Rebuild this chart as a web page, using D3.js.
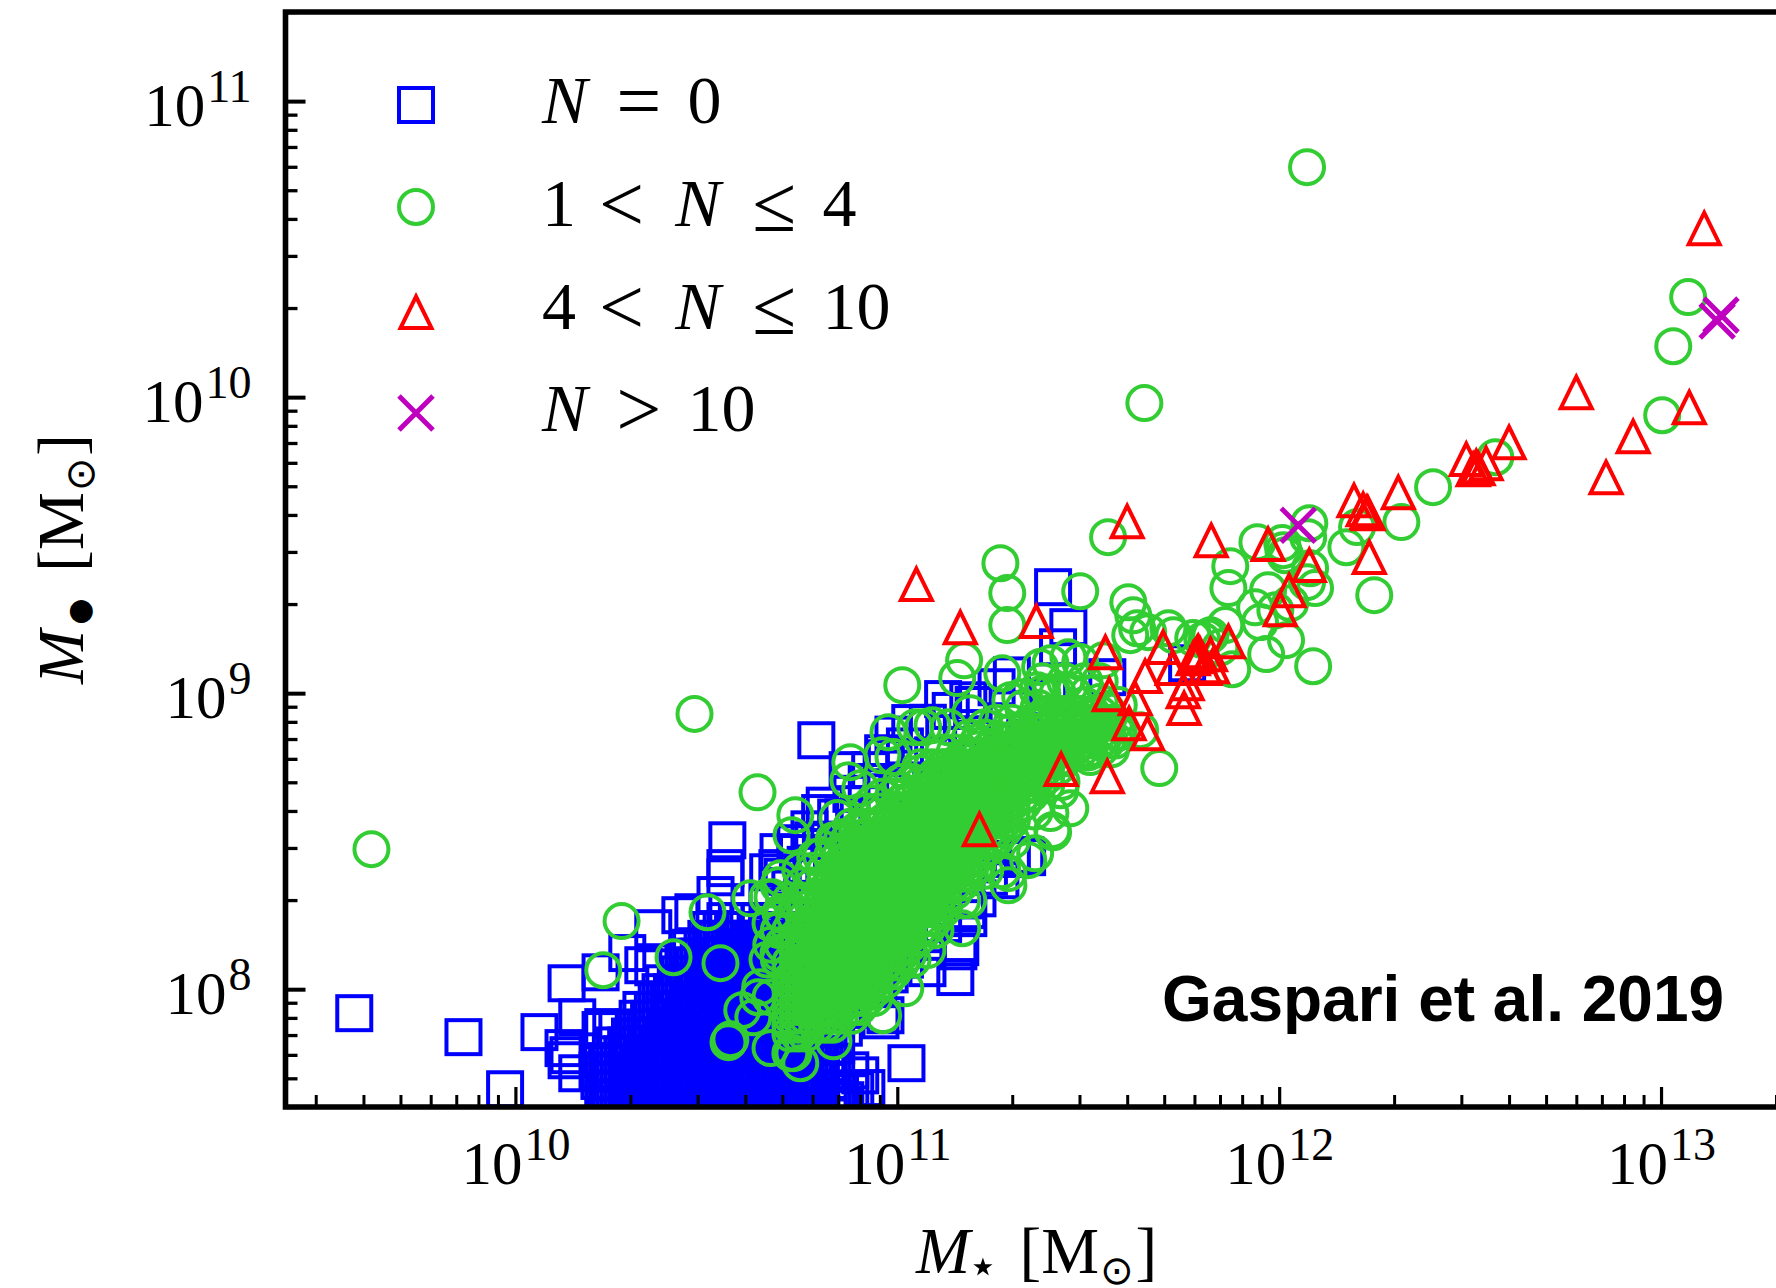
<!DOCTYPE html>
<html>
<head>
  <meta charset="utf-8">
  <style>
    html, body { margin: 0; padding: 0; background: #fff; }
    svg { display: block; }
    text { font-family: "Liberation Serif", serif; fill: #000; }
    .tick line { stroke: #000; }
    .domain { display: none; }
  </style>
</head>
<body>
  <script src="https://d3js.org/d3.v7.min.js"></script>
  <script>
    // all values below are log10(M / Msun), [M_star, M_bh]
    const blueSparse = [
      [9.578,7.919],[9.864,7.838],[9.973,7.662],[10.134,8.02],[10.063,7.855],[10.126,7.801],[10.162,7.905],
      [10.139,7.777],[10.134,7.76],[10.162,7.716],[10.215,7.726],[10.223,7.862],[10.23,7.872],[10.267,7.862],
      [10.293,8.122],[10.223,8.057],[10.361,8.074],[10.335,8.081],[10.361,8.206],[10.432,8.25],[10.466,8.26],
      [10.524,8.318],[10.555,8.503],[10.55,8.409],[10.55,8.378],[10.662,8.395],[10.686,8.409],[10.689,8.463],
      [10.798,8.595],[11.024,7.75],[11.152,8.041],[11.16,8.128],[11.079,8.071],[11.183,8.267],[10.956,7.895],
      [10.969,7.912],[10.89,7.659],[10.877,7.726],[10.877,7.652],[11.34,8.446],[10.788,8.841],[10.733,8.493],
      [10.78,8.503],[10.859,8.581],[10.929,8.74],[10.963,8.797],[11.034,8.899],[11.186,8.976],[11.196,8.882],
      [11.408,9.358],[11.448,9.223],[11.421,9.155],[11.395,8.986],[11.335,8.848],[11.094,8.79],[11.0,8.696],
      [11.21,8.307],[11.186,8.24],[11.165,8.142],[11.759,9.101],[11.55,9.054],[11.335,8.453],[11.27,8.368],
      [10.903,7.709],[10.919,7.666],[10.864,7.625]
    ];
    // squares half hidden along both edges of the green band and the lower right of the cloud
    const blueEdge = [
      [10.66,8.30],[10.72,8.34],[10.70,8.38],[10.76,8.42],[10.74,8.46],[10.80,8.50],[10.77,8.54],[10.84,8.58],
      [10.81,8.62],[10.88,8.66],[10.92,8.70],[10.87,8.74],[10.97,8.78],[11.02,8.82],[10.99,8.86],[11.08,8.90],
      [11.14,8.94],[11.12,8.98],[11.20,8.96],[11.26,9.02],[11.30,9.06],[10.95,8.0],[10.98,8.05],[11.02,8.10],
      [11.08,8.16],[11.12,8.22],[11.18,8.30],[11.24,8.38],[11.30,8.44],[10.82,7.57],[10.84,7.60],[10.83,7.63],
      [10.85,7.66],[10.82,7.69],[10.84,7.72],[10.83,7.75],[10.82,7.78],[10.81,7.84],[10.84,7.81],[10.86,7.87],
      [10.87,7.93],[10.88,7.97],[10.86,7.60],[10.80,7.87]
    ];
    // filled part of the blue cloud, one row per M_bh: [y, x, x, ...]
    const blueDenseRows = [
      [7.57,10.24,10.27,10.30,10.33,10.36,10.39,10.42,10.45,10.48,10.51,10.54,10.57,10.60,10.63,10.66,10.69,10.72,10.75,10.78],
      [7.60,10.25,10.28,10.31,10.34,10.37,10.40,10.43,10.46,10.49,10.52,10.55,10.58,10.61,10.64,10.67,10.70,10.73,10.76,10.79],
      [7.63,10.23,10.26,10.29,10.32,10.35,10.38,10.41,10.44,10.47,10.50,10.53,10.56,10.59,10.62,10.65,10.68,10.71,10.74,10.77,10.80],
      [7.66,10.24,10.27,10.30,10.33,10.36,10.39,10.42,10.45,10.48,10.51,10.54,10.57,10.60,10.63,10.66,10.69,10.72,10.75,10.78],
      [7.69,10.22,10.25,10.28,10.31,10.34,10.37,10.40,10.43,10.46,10.49,10.52,10.55,10.58,10.61,10.64,10.67,10.70,10.73,10.76,10.79],
      [7.72,10.23,10.26,10.29,10.32,10.35,10.38,10.41,10.44,10.47,10.50,10.53,10.56,10.59,10.62,10.65,10.68,10.71,10.74,10.77,10.80],
      [7.75,10.24,10.27,10.30,10.33,10.36,10.39,10.42,10.45,10.48,10.51,10.54,10.57,10.60,10.63,10.66,10.69,10.72,10.75,10.78],
      [7.78,10.25,10.28,10.31,10.34,10.37,10.40,10.43,10.46,10.49,10.52,10.55,10.58,10.61,10.64,10.67,10.70,10.73,10.76,10.79],
      [7.81,10.26,10.29,10.32,10.35,10.38,10.41,10.44,10.47,10.50,10.53,10.56,10.59,10.62,10.65,10.68,10.71,10.74,10.77,10.80],
      [7.84,10.30,10.33,10.36,10.39,10.42,10.45,10.48,10.51,10.54,10.57,10.60,10.63,10.66,10.69,10.72,10.75,10.78],
      [7.87,10.31,10.34,10.37,10.40,10.43,10.46,10.49,10.52,10.55,10.58,10.61,10.64,10.67,10.70,10.73,10.76],
      [7.90,10.32,10.35,10.38,10.41,10.44,10.47,10.50,10.53,10.56,10.59,10.62,10.65,10.68,10.71,10.74,10.77],
      [7.93,10.33,10.36,10.39,10.42,10.45,10.48,10.51,10.54,10.57,10.60,10.63,10.66,10.69,10.72,10.75],
      [7.96,10.37,10.40,10.43,10.46,10.49,10.52,10.55,10.58,10.61,10.64,10.67,10.70,10.73,10.76],
      [7.99,10.38,10.41,10.44,10.47,10.50,10.53,10.56,10.59,10.62,10.65,10.68,10.71,10.74,10.77],
      [8.02,10.39,10.42,10.45,10.48,10.51,10.54,10.57,10.60,10.63,10.66,10.69,10.72,10.75],
      [8.05,10.43,10.46,10.49,10.52,10.55,10.58,10.61,10.64,10.67,10.70,10.73,10.76],
      [8.08,10.44,10.47,10.50,10.53,10.56,10.59,10.62,10.65,10.68,10.71,10.74,10.77],
      [8.11,10.45,10.48,10.51,10.54,10.57,10.60,10.63,10.66,10.69,10.72,10.75],
      [8.14,10.46,10.49,10.52,10.55,10.58,10.61,10.64,10.67,10.70,10.73,10.76],
      [8.17,10.50,10.53,10.56,10.59,10.62,10.65,10.68,10.71,10.74,10.77],
      [8.20,10.51,10.54,10.57,10.60,10.63,10.66,10.69,10.72,10.75],
      [8.23,10.55,10.58,10.61,10.64,10.67,10.70,10.73,10.76]
    ];
    const greenSparse = [
      [9.623,8.473],[10.469,8.93],[10.634,8.665],[12.073,10.777],[11.647,9.98],[13.071,10.338],[13.032,10.172],
      [13.003,9.939],[12.566,9.797],[12.403,9.696],[12.32,9.578],[12.204,9.561],[12.176,9.493],[12.249,9.331],
      [12.089,9.091],[12.018,9.179],[11.966,9.132],[11.877,9.081],[12.079,9.574],[12.076,9.527],[12.008,9.507],
      [12.011,9.483],[12.016,9.466],[11.943,9.51],[12.081,9.422],[12.094,9.355],[12.073,9.375],[11.872,9.429],
      [11.867,9.355],[11.971,9.348],[11.937,9.29],[11.99,9.28],[12.029,9.304],[11.95,9.24],[11.859,9.23],
      [11.812,9.189],[11.799,9.179],[11.846,9.155],[11.552,9.527],[11.27,9.439],[11.288,9.338],[11.288,9.23],
      [11.479,9.344],[11.605,9.307],[11.618,9.263],[11.61,9.196],[11.628,9.219],[11.657,9.206],[11.71,9.219],
      [11.723,9.196],[11.775,9.186],[11.82,9.196],[11.686,8.747],[11.453,8.611],[11.406,8.537],[11.361,8.459],
      [11.291,8.392],[11.175,9.111],[11.157,9.051],[11.013,9.027],[11.275,9.067],[11.191,8.932],[11.374,9.088],
      [11.401,9.101],[11.448,9.121],[11.479,9.105],[11.539,9.111],[11.296,8.976],[11.322,8.986],[11.367,9.01],
      [11.401,9.003],[11.068,8.885],[11.047,8.885],[11.23,8.885],[11.505,8.784],[11.532,8.841],[11.576,8.865],
      [11.636,8.875],[11.427,8.672],[10.977,8.868],[11.092,8.892],[11.134,8.885],[11.21,8.834],[10.877,8.767],
      [10.872,8.706],[10.961,8.79],[10.99,8.784],[10.903,8.679],[10.733,8.588],[10.723,8.52],[10.843,8.578],
      [10.615,8.307],[10.673,8.311],[10.503,8.26],[10.694,8.375],[10.746,8.402],[10.785,8.446],[10.833,8.503],
      [10.856,8.513],[10.895,8.537],[10.922,8.493],[10.935,8.628],[11.008,8.672],[11.06,8.73],[11.126,8.75],
      [11.173,8.774],[11.291,8.351],[11.275,8.402],[11.343,8.436],[11.408,8.53],[11.401,8.595],[11.17,8.206],
      [11.186,8.301],[11.079,8.132],[11.021,8.003],[10.963,7.912],[10.833,7.824],[10.746,7.75],[10.728,7.784],
      [10.278,8.23],[10.23,8.064],[10.414,8.108],[10.537,8.088],[10.563,7.831],[10.558,7.821],[10.594,7.929],
      [10.641,8.007],[10.636,7.973],[10.668,7.973],[10.623,7.905],[10.668,7.801],[10.72,7.784],[10.689,8.351],
      [10.66,8.311],[10.668,8.223],[10.694,8.257],[10.689,8.122]
    ];
    // rings that fray out of the solid band, mostly on its upper side
    const greenEdge = [
      [10.69,8.10],[10.66,8.10],[10.70,8.15],[10.67,8.15],[10.72,8.20],[10.69,8.20],[10.73,8.25],[10.70,8.25],
      [10.75,8.30],[10.72,8.30],[10.78,8.35],[10.75,8.35],[10.81,8.40],[10.78,8.40],[10.83,8.45],[10.80,8.45],
      [10.87,8.50],[10.84,8.50],[10.91,8.55],[10.88,8.55],[10.95,8.60],[10.92,8.60],[10.99,8.65],[10.96,8.65],
      [11.04,8.70],[11.01,8.70],[11.09,8.75],[11.06,8.75],[11.15,8.80],[11.12,8.80],[11.23,8.85],[11.19,8.85],
      [11.30,8.90],[11.26,8.90],[11.37,8.95],[11.33,8.95],[11.42,9.00],[11.38,9.00],[11.46,9.00],[11.50,9.00],
      [11.38,9.04],[11.44,9.04],[11.49,9.04],[11.53,9.04],[11.04,8.10],[11.10,8.20],[11.17,8.30],[11.23,8.40],
      [11.30,8.50],[11.36,8.60],[11.43,8.70],[11.50,8.80],[11.54,8.85],
      [11.48,8.81],[11.50,8.81],[11.53,8.81],[11.56,8.81],[11.50,8.84],[11.53,8.84],[11.55,8.84],[11.57,8.84],
      [11.53,8.87],[11.55,8.87],[11.58,8.87],[11.55,8.90],[11.57,8.90],[11.51,8.93],[11.55,8.94],[11.49,8.96],
      [11.53,8.97],[11.58,8.96]
    ];
    // solid band of the green cloud, one row per M_bh: [y, x, x, ...]
    const greenDenseRows = [
      [7.85,10.72,10.74,10.76],
      [7.88,10.72,10.74,10.76,10.79,10.81,10.83],
      [7.91,10.72,10.74,10.76,10.79,10.81,10.83,10.85,10.88],
      [7.94,10.72,10.74,10.76,10.79,10.81,10.83,10.85,10.88,10.90],
      [7.97,10.72,10.74,10.76,10.79,10.81,10.83,10.85,10.88,10.90,10.92,10.94],
      [8.00,10.72,10.74,10.76,10.79,10.81,10.83,10.85,10.88,10.90,10.92,10.94],
      [8.03,10.72,10.74,10.76,10.79,10.81,10.83,10.85,10.88,10.90,10.92,10.94,10.97],
      [8.06,10.72,10.74,10.76,10.79,10.81,10.83,10.85,10.88,10.90,10.92,10.94,10.97,10.99],
      [8.09,10.72,10.74,10.76,10.79,10.81,10.83,10.85,10.88,10.90,10.92,10.94,10.97,10.99,11.01],
      [8.12,10.74,10.76,10.79,10.81,10.83,10.85,10.88,10.90,10.92,10.94,10.97,10.99,11.01,11.03],
      [8.15,10.74,10.76,10.79,10.81,10.83,10.85,10.88,10.90,10.92,10.94,10.97,10.99,11.01,11.03],
      [8.18,10.74,10.76,10.79,10.81,10.83,10.85,10.88,10.90,10.92,10.94,10.97,10.99,11.01,11.03,11.06],
      [8.21,10.76,10.79,10.81,10.83,10.85,10.88,10.90,10.92,10.94,10.97,10.99,11.01,11.03,11.06,11.08],
      [8.24,10.76,10.79,10.81,10.83,10.85,10.88,10.90,10.92,10.94,10.97,10.99,11.01,11.03,11.06,11.08,11.10],
      [8.27,10.76,10.79,10.81,10.83,10.85,10.88,10.90,10.92,10.94,10.97,10.99,11.01,11.03,11.06,11.08,11.10,11.12],
      [8.30,10.79,10.81,10.83,10.85,10.88,10.90,10.92,10.94,10.97,10.99,11.01,11.03,11.06,11.08,11.10,11.12],
      [8.33,10.81,10.83,10.85,10.88,10.90,10.92,10.94,10.97,10.99,11.01,11.03,11.06,11.08,11.10,11.12,11.15],
      [8.36,10.81,10.83,10.85,10.88,10.90,10.92,10.94,10.97,10.99,11.01,11.03,11.06,11.08,11.10,11.12,11.15,11.17],
      [8.39,10.83,10.85,10.88,10.90,10.92,10.94,10.97,10.99,11.01,11.03,11.06,11.08,11.10,11.12,11.15,11.17,11.19],
      [8.42,10.85,10.88,10.90,10.92,10.94,10.97,10.99,11.01,11.03,11.06,11.08,11.10,11.12,11.15,11.17,11.19,11.21],
      [8.45,10.85,10.88,10.90,10.92,10.94,10.97,10.99,11.01,11.03,11.06,11.08,11.10,11.12,11.15,11.17,11.19,11.21],
      [8.48,10.88,10.90,10.92,10.94,10.97,10.99,11.01,11.03,11.06,11.08,11.10,11.12,11.15,11.17,11.19,11.21,11.24],
      [8.51,10.90,10.92,10.94,10.97,10.99,11.01,11.03,11.06,11.08,11.10,11.12,11.15,11.17,11.19,11.21,11.24,11.26],
      [8.54,10.92,10.94,10.97,10.99,11.01,11.03,11.06,11.08,11.10,11.12,11.15,11.17,11.19,11.21,11.24,11.26,11.28],
      [8.57,10.97,10.99,11.01,11.03,11.06,11.08,11.10,11.12,11.15,11.17,11.19,11.21,11.24,11.26,11.28,11.30],
      [8.60,10.99,11.01,11.03,11.06,11.08,11.10,11.12,11.15,11.17,11.19,11.21,11.24,11.26,11.28,11.30],
      [8.63,11.01,11.03,11.06,11.08,11.10,11.12,11.15,11.17,11.19,11.21,11.24,11.26,11.28,11.30,11.33],
      [8.66,11.03,11.06,11.08,11.10,11.12,11.15,11.17,11.19,11.21,11.24,11.26,11.28,11.30,11.33,11.35],
      [8.69,11.06,11.08,11.10,11.12,11.15,11.17,11.19,11.21,11.24,11.26,11.28,11.30,11.33,11.35,11.37,11.39],
      [8.72,11.10,11.12,11.15,11.17,11.19,11.21,11.24,11.26,11.28,11.30,11.33,11.35,11.37,11.39],
      [8.75,11.12,11.15,11.17,11.19,11.21,11.24,11.26,11.28,11.30,11.33,11.35,11.37,11.39,11.42],
      [8.78,11.17,11.19,11.21,11.24,11.26,11.28,11.30,11.33,11.35,11.37,11.39,11.42,11.44],
      [8.81,11.21,11.24,11.26,11.28,11.30,11.33,11.35,11.37,11.39,11.42,11.44,11.46],
      [8.84,11.26,11.28,11.30,11.33,11.35,11.37,11.39,11.42,11.44,11.46,11.48],
      [8.87,11.30,11.33,11.35,11.37,11.39,11.42,11.44,11.46,11.48,11.51],
      [8.90,11.35,11.37,11.39,11.42,11.44,11.46,11.48,11.51,11.53],
      [8.93,11.39,11.42,11.44,11.46,11.48,11.51,11.53]
    ];
    const redPoints = [
      [11.05,9.372],[11.165,9.226],[11.364,9.247],[11.545,9.142],[11.602,9.584],[11.822,9.52],[11.971,9.507],
      [12.079,9.436],[12.026,9.351],[12.003,9.287],[12.236,9.463],[11.867,9.179],[11.696,9.159],[11.555,9.0],
      [11.649,9.061],[11.623,8.986],[11.607,8.902],[11.655,8.868],[11.751,8.953],[11.749,9.01],[11.759,9.037],
      [11.72,9.088],[11.785,9.138],[11.78,9.128],[11.788,9.145],[11.775,9.121],[11.793,9.135],[11.82,9.135],
      [11.825,9.094],[11.806,9.088],[11.429,8.747],[11.55,8.723],[11.215,8.544],[12.196,9.655],[12.22,9.625],
      [12.233,9.611],[12.23,9.615],[12.312,9.682],[12.49,9.794],[12.516,9.77],[12.521,9.763],[12.508,9.76],
      [12.542,9.78],[12.602,9.851],[13.113,10.574],[12.778,10.02],[13.074,9.969],[12.927,9.871],[12.856,9.733]
    ];
    const purplePoints = [[13.157,10.277],[13.147,10.257],[12.05,9.567]];

    const xMajor = [10, 11, 12, 13];
    const yMajor = [8, 9, 10, 11];
    const legendLabels = ["N = 0", "1 < N \u2264 4", "4 < N \u2264 10", "N > 10"];
    const legendKinds = ["square", "circle", "triangle", "cross"];
    const credit = "Gaspari et al. 2019";

    const width = 1776, height = 1288;
    const plotLeft = 285.5, plotTop = 12, plotBottom = 1107, plotRight = 1813;
    const colors = { square: "#0000ff", circle: "#32cd32", triangle: "#ff0000", cross: "#bf00bf" };

    const x = d3.scaleLog().domain([2.5e9, 2.5e13]).range([plotLeft, plotRight]);
    const y = d3.scaleLog().domain([4e7, 2e11]).range([plotBottom, plotTop]);

    const svg = d3.select("body").append("svg").attr("width", width).attr("height", height);
    svg.append("defs").append("clipPath").attr("id", "plot-clip")
      .append("rect").attr("x", plotLeft).attr("y", plotTop)
      .attr("width", plotRight - plotLeft).attr("height", plotBottom - plotTop);

    function drawMarker(sel, kind, px, py) {
      const g = sel.append("g").attr("transform", `translate(${px},${py})`)
        .attr("fill", "none").attr("stroke", colors[kind]).attr("stroke-width", 4);
      if (kind == "square") g.append("rect").attr("x", -17).attr("y", -17).attr("width", 34).attr("height", 34);
      if (kind == "circle") g.append("circle").attr("r", 17);
      if (kind == "triangle") g.append("path").attr("d", "M0,-14.5L15.5,17L-15.5,17Z").attr("stroke-linejoin", "miter");
      if (kind == "cross") g.append("path").attr("d", "M-17,-17L17,17M-17,17L17,-17").attr("stroke-width", 5);
    }

    const unrow = rows => rows.flatMap(r => r.slice(1).map(v => [v, r[0]]));
    const plot = svg.append("g").attr("clip-path", "url(#plot-clip)");
    const layers = [
      ["square", blueSparse.concat(blueEdge, unrow(blueDenseRows))],
      ["circle", greenSparse.concat(greenEdge, unrow(greenDenseRows))],
      ["triangle", redPoints],
      ["cross", purplePoints]
    ];
    layers.forEach(([kind, pts]) => {
      pts.forEach(d => drawMarker(plot, kind, x(10 ** d[0]), y(10 ** d[1])));
    });

    // ticks
    const isMajor = v => Number.isInteger(Math.round(Math.log10(v) * 1e6) / 1e6);
    const xAll = x.ticks().filter(v => x(v) <= width + 5);
    const yAll = y.ticks();
    const powLabel = (g, p) => {
      g.append("tspan").text("10");
      g.append("tspan").text(p).attr("font-size", 46).attr("dy", -24).attr("dx", 2);
    };

    svg.append("g").attr("transform", `translate(0,${plotBottom})`)
      .call(d3.axisBottom(x).tickValues(xAll.filter(v => !isMajor(v))).tickSize(-12).tickFormat(""))
      .selectAll("line").attr("stroke-width", 3);
    const xAxis = svg.append("g").attr("transform", `translate(0,${plotBottom})`)
      .call(d3.axisBottom(x).tickValues(xMajor.map(p => 10 ** p)).tickSize(-20).tickFormat(""));
    xAxis.selectAll("line").attr("stroke-width", 3.2);
    xAxis.selectAll("text").remove();
    xAxis.selectAll(".tick").data(xMajor).append("text")
      .attr("y", 77).attr("text-anchor", "middle").attr("font-size", 61)
      .each(function (p) { powLabel(d3.select(this), p); });

    svg.append("g").attr("transform", `translate(${plotLeft},0)`)
      .call(d3.axisLeft(y).tickValues(yAll.filter(v => !isMajor(v))).tickSize(-12).tickFormat(""))
      .selectAll("line").attr("stroke-width", 3.3);
    const yAxis = svg.append("g").attr("transform", `translate(${plotLeft},0)`)
      .call(d3.axisLeft(y).tickValues(yMajor.map(p => 10 ** p)).tickSize(-20).tickFormat(""));
    yAxis.selectAll("line").attr("stroke-width", 4);
    yAxis.selectAll("text").remove();
    yAxis.selectAll(".tick").data(yMajor).append("text")
      .attr("x", -34).attr("y", 24).attr("text-anchor", "end").attr("font-size", 61)
      .each(function (p) { powLabel(d3.select(this), p); });

    // spines, the right one falls off the page
    svg.append("path")
      .attr("d", d3.line()([[plotRight, plotTop], [plotLeft, plotTop], [plotLeft, plotBottom], [plotRight, plotBottom]]))
      .attr("fill", "none").attr("stroke", "#000").attr("stroke-width", 5.6);

    // legend
    const legendX = 416, legendTextX = 542;
    const legendY = [105, 207, 311, 413];
    const legendBase = [123, 226, 329, 431];
    const operators = ["=", "<", ">", "\u2264"];
    legendLabels.forEach((label, i) => {
      drawMarker(svg, legendKinds[i], legendX, legendY[i]);
      const t = svg.append("text").attr("x", legendTextX).attr("y", legendBase[i])
        .attr("font-size", 68).attr("word-spacing", 6).attr("xml:space", "preserve");
      let shift = 0, gap = 0;
      label.split(" ").forEach((tok, k, all) => {
        const isOp = operators.includes(tok);
        const s = t.append("tspan").text(tok + (k < all.length - 1 ? " " : ""))
          .attr("font-style", tok == "N" ? "italic" : "normal")
          .attr("dy", (isOp ? 5 : 0) - shift)
          .attr("dx", (tok == "N" && k > 0 ? 5 : 0) + gap);
        if (isOp) s.attr("font-size", 80);
        shift = isOp ? 5 : 0;
        gap = tok == "N" ? (k == 0 ? 6 : 9) : 0;
      });
    });

    // axis titles
    function massLabel(t, sub, subSize, subDy, subDx, bracketDx) {
      t.append("tspan").text("M").attr("font-style", "italic");
      t.append("tspan").text(sub).attr("font-family", "DejaVu Sans").attr("font-size", subSize).attr("dy", subDy).attr("dx", subDx);
      t.append("tspan").text("[").attr("dy", -subDy).attr("dx", bracketDx);
      t.append("tspan").text("M");
      t.append("tspan").text("\u2299").attr("font-family", "DejaVu Sans").attr("font-size", 40).attr("dy", 11).attr("dx", 1);
      t.append("tspan").text("]").attr("dy", -11).attr("dx", 2);
    }
    massLabel(svg.append("text").attr("x", 916).attr("y", 1272.6).attr("font-size", 65), "\u22c6", 50, 10, -3, 21);
    massLabel(svg.append("text").attr("transform", "translate(83,684) rotate(-90)").attr("font-size", 65), "\u25cf", 30, 6, 5, 27);

    svg.append("text").attr("x", 1162).attr("y", 1021)
      .style("font-family", "'Liberation Sans'")
      .attr("font-weight", "bold").attr("font-size", 64).text(credit);
  </script>
</body>
</html>
